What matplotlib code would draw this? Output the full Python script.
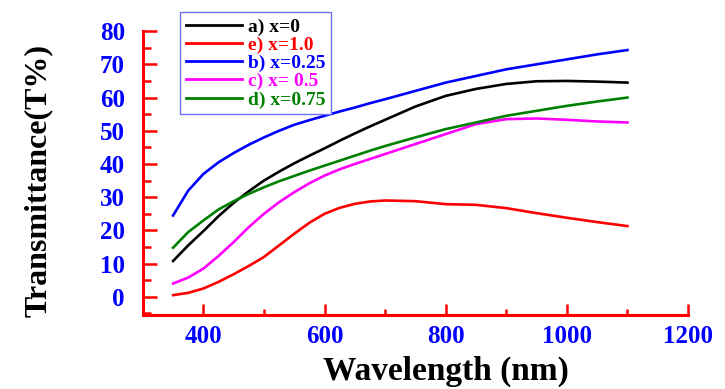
import numpy as np
import matplotlib.pyplot as plt
from matplotlib.ticker import MultipleLocator

# wavelength (nm)
wl = [350, 375, 400, 425, 450, 475, 500, 525, 550, 575, 600, 625, 650, 675, 700,
      750, 800, 850, 900, 950, 1000, 1050, 1100]

# transmittance (%)
t_x0 = [10.8, 15.5, 19.8, 24.3, 28.3, 31.8, 35.0, 37.7, 40.2, 42.5, 44.7, 47.0, 49.2, 51.3, 53.3,
        57.3, 60.5, 62.6, 64.1, 64.9, 65.0, 64.8, 64.5]
t_x10 = [0.5, 1.2, 2.5, 4.5, 6.8, 9.3, 12.0, 15.5, 19.0, 22.3, 25.0, 26.8, 28.0, 28.7, 29.0,
         28.8, 27.9, 27.7, 26.7, 25.2, 23.8, 22.5, 21.3]
t_x025 = [24.5, 32.0, 37.0, 40.5, 43.3, 45.8, 48.0, 50.0, 51.8, 53.2, 54.5, 55.8, 57.0, 58.3, 59.5,
          62.0, 64.5, 66.5, 68.5, 70.0, 71.5, 73.0, 74.3]
t_x05 = [4.0, 5.8, 8.5, 12.3, 16.5, 21.0, 25.0, 28.5, 31.5, 34.2, 36.5, 38.4, 40.0, 41.5, 43.0,
         46.0, 49.0, 52.0, 53.5, 53.7, 53.3, 52.8, 52.5]
t_x075 = [14.8, 19.5, 23.0, 26.3, 28.8, 31.0, 33.0, 34.8, 36.4, 38.0, 39.5, 41.0, 42.5, 44.0, 45.4,
          48.0, 50.5, 52.5, 54.5, 56.0, 57.5, 58.8, 60.0]

labels = ['a) x=0', 'e) x=1.0', 'b) x=0.25', 'c) x= 0.5', 'd) x=0.75']
colors = ['black', 'red', 'blue', 'magenta', 'green']
series = [t_x0, t_x10, t_x025, t_x05, t_x075]

plt.rcParams['font.family'] = ['Liberation Serif', 'DejaVu Serif']
plt.rcParams['font.weight'] = 'bold'

fig = plt.figure(figsize=(7.25, 3.89), dpi=100)
ax = fig.add_axes([0.197, 0.19, 0.752, 0.73])

for y, c, l in zip(series, colors, labels):
    ax.plot(wl, y, color=c, lw=1.9, label=l, solid_joinstyle='round')

ax.set_xlim(300, 1200)
ax.set_ylim(-5.5, 80)
ax.xaxis.set_major_locator(MultipleLocator(200))
ax.xaxis.set_minor_locator(MultipleLocator(100))
ax.yaxis.set_major_locator(MultipleLocator(10))
ax.yaxis.set_minor_locator(MultipleLocator(5))
ax.set_xticks([400, 600, 800, 1000, 1200])

for s in ['top', 'right']:
    ax.spines[s].set_visible(False)
for s in ['left', 'bottom']:
    ax.spines[s].set_color('red')
    ax.spines[s].set_linewidth(2.2)

ax.tick_params(axis='both', which='both', direction='in', color='red',
               labelcolor='blue', width=1.8)
ax.tick_params(axis='x', which='major', length=8, pad=7, labelsize=18)
ax.tick_params(axis='x', which='minor', length=4.5)
ax.tick_params(axis='y', which='major', length=10, pad=13, labelsize=18)
ax.tick_params(axis='y', which='minor', length=6)
for t in ax.get_xticklabels() + ax.get_yticklabels():
    t.set_fontweight('bold')

ax.set_xlabel('Wavelength (nm)', fontsize=24, fontweight='bold', va='bottom')
ax.xaxis.set_label_coords(0.556, -0.2535)
ax.set_ylabel('Transmittance(T%)', fontsize=23, fontweight='bold')
ax.yaxis.set_label_coords(-0.165, 0.475)

leg = ax.legend(loc='upper left', bbox_to_anchor=(0.248, 0.969),
                bbox_transform=fig.transFigure, borderaxespad=0,
                fancybox=False, framealpha=1, edgecolor='#7070ff',
                prop={'size': 14, 'weight': 'bold'}, handlelength=2.9,
                handletextpad=0.3, labelspacing=0.03, borderpad=0.3)
leg.get_frame().set_linewidth(1.0)
for txt, c in zip(leg.get_texts(), colors):
    txt.set_color(c)
for h in leg.get_lines():
    h.set_linewidth(2.0)

fig.savefig('out.png', dpi=100, facecolor='white')
